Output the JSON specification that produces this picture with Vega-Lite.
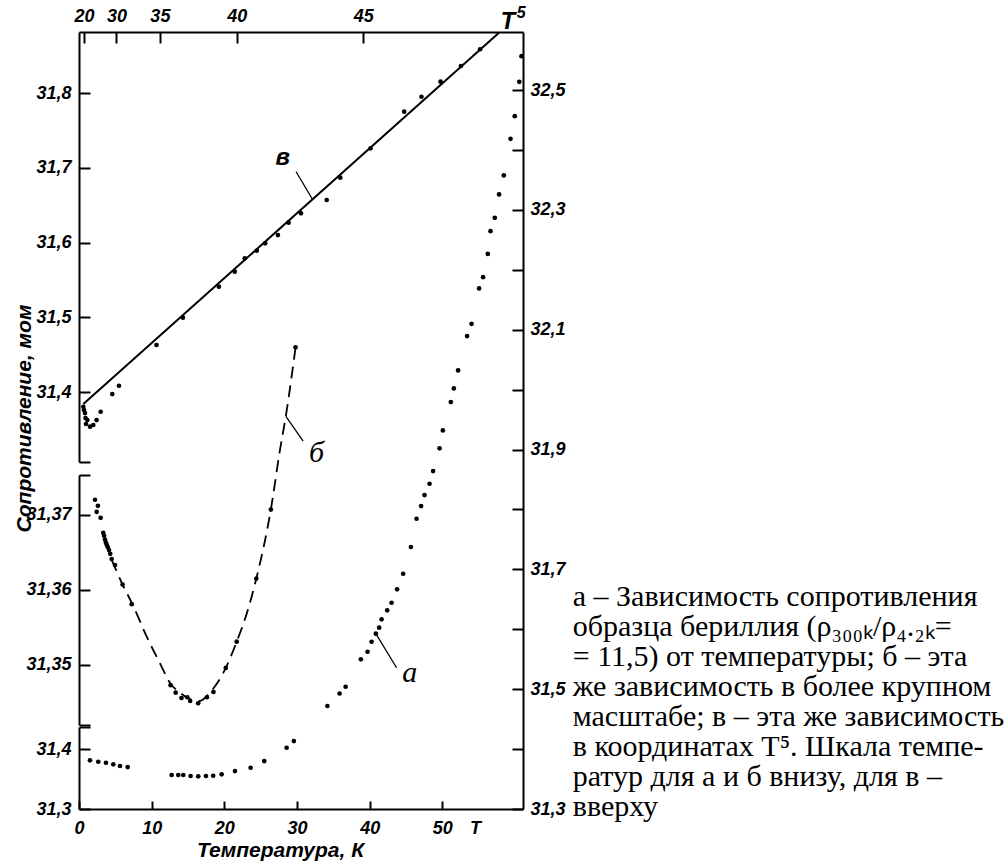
{
  "$schema": "https://vega.github.io/schema/vega-lite/v6.json",
  "width": 444,
  "height": 777,
  "autosize": {"type": "none"},
  "padding": {"left": 79, "top": 32, "right": 485, "bottom": 55},
  "background": "white",
  "config": {
    "view": {"stroke": null},
    "axis": {
      "grid": false,
      "domainColor": "black",
      "domainWidth": 2,
      "tickColor": "black",
      "tickWidth": 2,
      "tickSize": -11,
      "labelFont": "Liberation Sans",
      "labelFontStyle": "italic",
      "labelFontWeight": "bold",
      "labelFontSize": 18,
      "labelColor": "black",
      "labelOverlap": false,
      "labelFlush": false,
      "titleFont": "Liberation Sans",
      "titleFontStyle": "italic",
      "titleFontWeight": "bold",
      "titleFontSize": 21,
      "titleColor": "black"
    }
  },
  "datasets": {
    "a": [
      {"T": 1.51, "R": 31.3813}, {"T": 2.65, "R": 31.3789}, {"T": 3.71, "R": 31.3773}, {"T": 4.72, "R": 31.3746},
      {"T": 5.64, "R": 31.3718}, {"T": 6.70, "R": 31.3701}, {"T": 12.75, "R": 31.3568}, {"T": 13.66, "R": 31.3568},
      {"T": 14.35, "R": 31.3568}, {"T": 15.36, "R": 31.3551}, {"T": 16.41, "R": 31.3546}, {"T": 17.47, "R": 31.3551},
      {"T": 18.47, "R": 31.3556}, {"T": 19.63, "R": 31.3579}, {"T": 21.46, "R": 31.3634}, {"T": 23.62, "R": 31.3689},
      {"T": 25.49, "R": 31.3801}, {"T": 28.57, "R": 31.4023}, {"T": 29.57, "R": 31.4135}, {"T": 34.18, "R": 31.4719},
      {"T": 35.86, "R": 31.4928}, {"T": 36.69, "R": 31.5041}, {"T": 38.79, "R": 31.5498}, {"T": 39.71, "R": 31.5625},
      {"T": 40.26, "R": 31.5792}, {"T": 40.85, "R": 31.5926}, {"T": 41.31, "R": 31.6026}, {"T": 41.64, "R": 31.6166},
      {"T": 42.41, "R": 31.6316}, {"T": 43.01, "R": 31.6443}, {"T": 43.78, "R": 31.6667}, {"T": 44.61, "R": 31.6927},
      {"T": 45.67, "R": 31.7373}, {"T": 46.45, "R": 31.7845}, {"T": 47.08, "R": 31.8057}, {"T": 47.55, "R": 31.824},
      {"T": 48.24, "R": 31.8429}, {"T": 48.73, "R": 31.8641}, {"T": 49.62, "R": 31.902}, {"T": 50.07, "R": 31.932},
      {"T": 51.17, "R": 31.9792}, {"T": 51.58, "R": 32.0021}, {"T": 52.17, "R": 32.0321}, {"T": 53.41, "R": 32.0894},
      {"T": 54.02, "R": 32.1099}, {"T": 55.06, "R": 32.169}, {"T": 55.61, "R": 32.1878}, {"T": 56.26, "R": 32.2267},
      {"T": 56.63, "R": 32.2646}, {"T": 57.22, "R": 32.2868}, {"T": 57.81, "R": 32.3259}, {"T": 58.46, "R": 32.3576},
      {"T": 59.38, "R": 32.4187}, {"T": 59.97, "R": 32.4565}, {"T": 60.59, "R": 32.5138}, {"T": 60.89, "R": 32.5567}
    ],
    "b": [
      {"T": 2.2, "R": 31.372}, {"T": 2.43, "R": 31.3704}, {"T": 2.6, "R": 31.3712}, {"T": 2.98, "R": 31.3696},
      {"T": 3.34, "R": 31.3676}, {"T": 3.45, "R": 31.3672}, {"T": 3.58, "R": 31.3667}, {"T": 3.7, "R": 31.3663},
      {"T": 3.81, "R": 31.366}, {"T": 3.95, "R": 31.3657}, {"T": 4.13, "R": 31.3653}, {"T": 4.3, "R": 31.3648},
      {"T": 4.5, "R": 31.3641}, {"T": 4.95, "R": 31.3633}, {"T": 6.0, "R": 31.3607}, {"T": 7.25, "R": 31.3581},
      {"T": 12.6, "R": 31.3473}, {"T": 13.3, "R": 31.3463}, {"T": 14.1, "R": 31.3456}, {"T": 14.9, "R": 31.3457},
      {"T": 15.3, "R": 31.3452}, {"T": 16.4, "R": 31.3449}, {"T": 17.6, "R": 31.3457}, {"T": 18.5, "R": 31.3464},
      {"T": 20.2, "R": 31.3496}, {"T": 21.7, "R": 31.3531}, {"T": 24.4, "R": 31.3615}, {"T": 26.4, "R": 31.3707},
      {"T": 29.8, "R": 31.3923}
    ],
    "bfit": [
      {"T": 4.5, "R": 31.364}, {"T": 6.0, "R": 31.3607}, {"T": 7.5, "R": 31.3578}, {"T": 9.3, "R": 31.3538},
      {"T": 11.1, "R": 31.3503}, {"T": 12.6, "R": 31.3475}, {"T": 13.9, "R": 31.3463}, {"T": 15.7, "R": 31.3453},
      {"T": 16.6, "R": 31.3452}, {"T": 18.0, "R": 31.3463}, {"T": 20.2, "R": 31.3496}, {"T": 21.7, "R": 31.3531},
      {"T": 23.1, "R": 31.3569}, {"T": 24.4, "R": 31.3615}, {"T": 26.4, "R": 31.3707}, {"T": 27.6, "R": 31.3783},
      {"T": 28.6, "R": 31.384}, {"T": 29.8, "R": 31.3923}
    ],
    "v": [
      {"T": 19.5, "R": 31.3803}, {"T": 20.06, "R": 31.3759}, {"T": 20.8, "R": 31.3719}, {"T": 21.14, "R": 31.3652},
      {"T": 21.45, "R": 31.3572}, {"T": 22.2, "R": 31.3625}, {"T": 23.5, "R": 31.3536}, {"T": 24.75, "R": 31.3559},
      {"T": 25.8, "R": 31.3625}, {"T": 26.9, "R": 31.3736}, {"T": 29.3, "R": 31.3973}, {"T": 30.4, "R": 31.4084},
      {"T": 34.7, "R": 31.4629}, {"T": 36.8, "R": 31.4994}, {"T": 39.05, "R": 31.5409}, {"T": 39.9, "R": 31.561},
      {"T": 40.4, "R": 31.5789}, {"T": 40.97, "R": 31.589}, {"T": 41.35, "R": 31.5989}, {"T": 41.9, "R": 31.61},
      {"T": 42.34, "R": 31.6265}, {"T": 42.83, "R": 31.6391}, {"T": 43.78, "R": 31.6569}, {"T": 44.25, "R": 31.6867},
      {"T": 45.23, "R": 31.726}, {"T": 46.23, "R": 31.775}, {"T": 46.71, "R": 31.795}, {"T": 47.22, "R": 31.8151},
      {"T": 47.74, "R": 31.8361}, {"T": 48.21, "R": 31.8585}
    ],
    "vline": [{"T": 19.5, "R": 31.3839}, {"T": 48.65, "R": 31.8803}]
  },
  "resolve": {"scale": {"x": "independent", "y": "independent"}, "axis": {"x": "independent", "y": "independent"}},
  "layer": [
    {
      "data": {"name": "a"},
      "transform": [{"filter": "datum.R >= 31.43"}],
      "mark": {"type": "circle", "size": 22, "color": "black", "opacity": 1},
      "encoding": {
        "x": {"field": "T", "type": "quantitative",
          "scale": {"domain": [0, 61.1], "nice": false, "zero": false},
          "axis": {"orient": "bottom", "values": [0, 10, 20, 30, 40, 50, 54.5],
            "labelExpr": "datum.value > 52 ? 'T' : datum.label",
            "tickSize": -8, "labelPadding": 18,
            "tickOpacity": {"condition": {"test": "datum.value > 52", "value": 0}, "value": 1},
            "title": "Температура, К", "titleX": 201, "titleY": 41, "titleBaseline": "middle"}},
        "y": {"field": "R", "type": "quantitative",
          "scale": {"domain": [31.3, 32.597], "nice": false, "zero": false},
          "axis": {"orient": "right", "values": [31.3, 31.4, 31.5, 31.6, 31.7, 31.8, 31.9, 32.0, 32.1, 32.2, 32.3, 32.4, 32.5],
            "labelExpr": "round(datum.value*10) % 2 == 1 ? replace(format(datum.value, '.1f'), '.', ',') : ''",
            "labelPadding": 18, "title": null}}
      }
    },
    {
      "data": {"values": [{"T": 40.85, "R": 31.5926, "T2": 43.7, "R2": 31.5358}]},
      "mark": {"type": "rule", "color": "black", "strokeWidth": 1.3},
      "encoding": {
        "x": {"field": "T", "type": "quantitative", "scale": {"domain": [0, 61.1], "nice": false, "zero": false}, "axis": null},
        "x2": {"field": "T2"},
        "y": {"field": "R", "type": "quantitative", "scale": {"domain": [31.3, 32.597], "nice": false, "zero": false}, "axis": null},
        "y2": {"field": "R2"}
      }
    },
    {
      "data": {"values": [{"T": 45.53, "R": 31.5275, "label": "а"}]},
      "mark": {"type": "text", "font": "Liberation Serif", "fontStyle": "italic", "fontSize": 30, "baseline": "middle", "align": "center", "color": "black"},
      "encoding": {
        "x": {"field": "T", "type": "quantitative", "scale": {"domain": [0, 61.1], "nice": false, "zero": false}, "axis": null},
        "y": {"field": "R", "type": "quantitative", "scale": {"domain": [31.3, 32.597], "nice": false, "zero": false}, "axis": null},
        "text": {"field": "label"}
      }
    },
    {
      "data": {"values": [{"T": 67.95, "R": 31.6789, "label": "а – Зависимость сопротивления\nобразца бериллия (ρ₃₀₀ₖ/ρ₄.₂ₖ=\n= 11,5) от температуры; б – эта\nже зависимость в более крупном\nмасштабе; в – эта же зависимость\nв координатах T⁵. Шкала темпе-\nратур для а и б внизу, для в –\nвверху"}]},
      "mark": {"type": "text", "font": "Liberation Serif", "fontSize": 30, "lineHeight": 30, "lineBreak": "\n", "baseline": "top", "align": "left", "color": "black"},
      "encoding": {
        "x": {"field": "T", "type": "quantitative", "scale": {"domain": [0, 61.1], "nice": false, "zero": false}, "axis": null},
        "y": {"field": "R", "type": "quantitative", "scale": {"domain": [31.3, 32.597], "nice": false, "zero": false}, "axis": null},
        "text": {"field": "label"}
      }
    },
    {
      "data": {"name": "a"},
      "transform": [{"filter": "datum.R < 31.43"}],
      "mark": {"type": "circle", "size": 22, "color": "black", "opacity": 1},
      "encoding": {
        "x": {"field": "T", "type": "quantitative", "scale": {"domain": [0, 61.1], "nice": false, "zero": false}, "axis": null},
        "y": {"field": "R", "type": "quantitative",
          "scale": {"domain": [31.3, 31.437], "range": [777, 695], "nice": false, "zero": false},
          "axis": {"orient": "left", "values": [31.3, 31.4, 31.437],
            "labelExpr": "datum.value > 31.42 ? '' : replace(format(datum.value, '.1f'), '.', ',')",
            "labelPadding": 19, "title": null}}
      }
    },
    {
      "data": {"name": "bfit"},
      "mark": {"type": "line", "color": "black", "strokeWidth": 1.8, "strokeDash": [12, 7], "interpolate": "monotone"},
      "encoding": {
        "x": {"field": "T", "type": "quantitative", "scale": {"domain": [0, 61.1], "nice": false, "zero": false}, "axis": null},
        "y": {"field": "R", "type": "quantitative",
          "scale": {"domain": [31.342, 31.3753], "range": [693, 443], "nice": false, "zero": false},
          "axis": {"orient": "left", "values": [31.342, 31.35, 31.36, 31.37, 31.3753],
            "labelExpr": "(datum.value > 31.345 && datum.value < 31.372) ? replace(format(datum.value, '.2f'), '.', ',') : ''",
            "labelPadding": 19,
            "title": "Сопротивление, мом", "titleX": -55, "titleY": 386, "titleBaseline": "middle", "titleAngle": 270}}
      }
    },
    {
      "data": {"name": "b"},
      "mark": {"type": "circle", "size": 22, "color": "black", "opacity": 1},
      "encoding": {
        "x": {"field": "T", "type": "quantitative", "scale": {"domain": [0, 61.1], "nice": false, "zero": false}, "axis": null},
        "y": {"field": "R", "type": "quantitative", "scale": {"domain": [31.342, 31.3753], "range": [693, 443], "nice": false, "zero": false}, "axis": null}
      }
    },
    {
      "data": {"values": [{"T": 28.47, "R": 31.3831, "T2": 30.85, "R2": 31.3798}]},
      "mark": {"type": "rule", "color": "black", "strokeWidth": 1.3},
      "encoding": {
        "x": {"field": "T", "type": "quantitative", "scale": {"domain": [0, 61.1], "nice": false, "zero": false}, "axis": null},
        "x2": {"field": "T2"},
        "y": {"field": "R", "type": "quantitative", "scale": {"domain": [31.342, 31.3753], "range": [693, 443], "nice": false, "zero": false}, "axis": null},
        "y2": {"field": "R2"}
      }
    },
    {
      "data": {"values": [{"T": 32.7, "R": 31.3782, "label": "б"}]},
      "mark": {"type": "text", "font": "Liberation Serif", "fontStyle": "italic", "fontSize": 30, "baseline": "middle", "align": "center", "color": "black"},
      "encoding": {
        "x": {"field": "T", "type": "quantitative", "scale": {"domain": [0, 61.1], "nice": false, "zero": false}, "axis": null},
        "y": {"field": "R", "type": "quantitative", "scale": {"domain": [31.342, 31.3753], "range": [693, 443], "nice": false, "zero": false}, "axis": null},
        "text": {"field": "label"}
      }
    },
    {
      "data": {"name": "vline"},
      "mark": {"type": "line", "color": "black", "strokeWidth": 2},
      "encoding": {
        "x": {"field": "T", "type": "quantitative",
          "scale": {"type": "pow", "exponent": 5, "domain": [0, 49.2], "nice": false, "zero": false},
          "axis": {"orient": "top", "values": [20, 30, 35, 40, 45], "labelPadding": 18, "title": null}},
        "y": {"field": "R", "type": "quantitative",
          "scale": {"domain": [31.3064, 31.8816], "range": [430, 0], "nice": false, "zero": false},
          "axis": {"orient": "left", "values": [31.3064, 31.4, 31.5, 31.6, 31.7, 31.8],
            "labelExpr": "datum.value < 31.35 ? '' : replace(format(datum.value, '.1f'), '.', ',')",
            "labelPadding": 19, "title": null}}
      }
    },
    {
      "data": {"name": "v"},
      "mark": {"type": "circle", "size": 22, "color": "black", "opacity": 1},
      "encoding": {
        "x": {"field": "T", "type": "quantitative", "scale": {"type": "pow", "exponent": 5, "domain": [0, 49.2], "nice": false, "zero": false}, "axis": null},
        "y": {"field": "R", "type": "quantitative", "scale": {"domain": [31.3064, 31.8816], "range": [430, 0], "nice": false, "zero": false}, "axis": null}
      }
    },
    {
      "data": {"values": [{"T": 42.64, "R": 31.6947, "T2": 43.28, "R2": 31.6569}]},
      "mark": {"type": "rule", "color": "black", "strokeWidth": 1.3},
      "encoding": {
        "x": {"field": "T", "type": "quantitative", "scale": {"type": "pow", "exponent": 5, "domain": [0, 49.2], "nice": false, "zero": false}, "axis": null},
        "x2": {"field": "T2"},
        "y": {"field": "R", "type": "quantitative", "scale": {"domain": [31.3064, 31.8816], "range": [430, 0], "nice": false, "zero": false}, "axis": null},
        "y2": {"field": "R2"}
      }
    },
    {
      "data": {"values": [{"T": 42.1, "R": 31.7126, "label": "в"}, {"T": 48.86, "R": 31.895, "label": "T"}]},
      "mark": {"type": "text", "font": "Liberation Sans", "fontStyle": "italic", "fontWeight": "bold", "fontSize": 24, "baseline": "middle", "align": "center", "color": "black"},
      "encoding": {
        "x": {"field": "T", "type": "quantitative", "scale": {"type": "pow", "exponent": 5, "domain": [0, 49.2], "nice": false, "zero": false}, "axis": null},
        "y": {"field": "R", "type": "quantitative", "scale": {"domain": [31.3064, 31.8816], "range": [430, 0], "nice": false, "zero": false}, "axis": null},
        "text": {"field": "label"}
      }
    },
    {
      "data": {"values": [{"T": 49.16, "R": 31.907, "label": "5"}]},
      "mark": {"type": "text", "font": "Liberation Sans", "fontStyle": "italic", "fontWeight": "bold", "fontSize": 16, "baseline": "middle", "align": "center", "color": "black"},
      "encoding": {
        "x": {"field": "T", "type": "quantitative", "scale": {"type": "pow", "exponent": 5, "domain": [0, 49.2], "nice": false, "zero": false}, "axis": null},
        "y": {"field": "R", "type": "quantitative", "scale": {"domain": [31.3064, 31.8816], "range": [430, 0], "nice": false, "zero": false}, "axis": null},
        "text": {"field": "label"}
      }
    }
  ]
}
